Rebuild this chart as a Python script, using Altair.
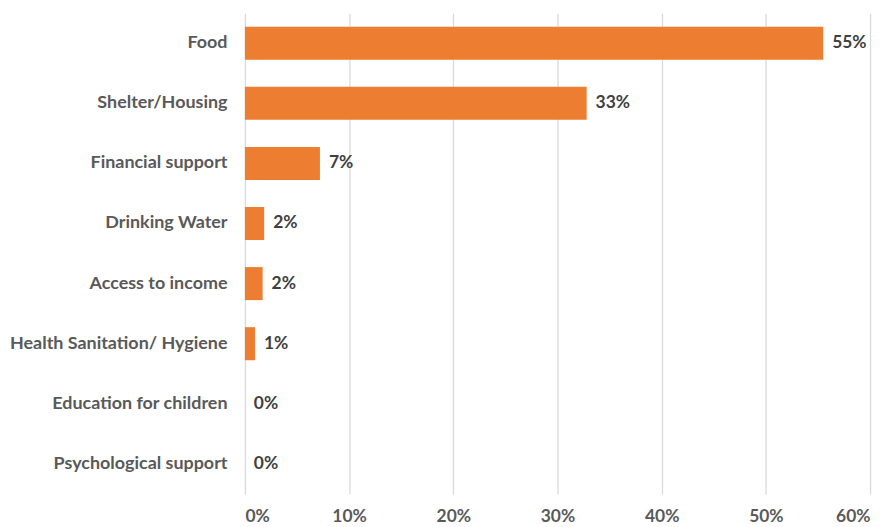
import altair as alt
import pandas as pd

categories = ["Food", "Shelter/Housing", "Financial support", "Drinking Water",
              "Access to income", "Health Sanitation/ Hygiene",
              "Education for children\u00a0", "Psychological support"]
values = [0.555, 0.328, 0.072, 0.0185, 0.017, 0.0097, 0.0, 0.0]
labels = ["55%", "33%", "7%", "2%", "2%", "1%", "0%", "0%"]
x_ticks = [0, 0.1, 0.2, 0.3, 0.4, 0.5, 0.6]

df = pd.DataFrame({"category": categories, "value": values, "label": labels})

FONT = "Lato"
FS = 18

y_enc = alt.Y("category:N", sort=categories, title=None,
              scale=alt.Scale(paddingInner=0.45, paddingOuter=0.225),
              axis=alt.Axis(domain=False, ticks=False, labelFont=FONT,
                            labelFontSize=FS, labelFontWeight="bold",
                            labelColor="#595959", labelPadding=18,
                            labelLimit=400))

x_enc = alt.X("value:Q", title=None,
              scale=alt.Scale(domain=[0, 0.6], nice=False),
              axis=alt.Axis(values=x_ticks, format=".0%", domain=False,
                            ticks=False, grid=True, gridColor="#d9d9d9",
                            gridWidth=1.3,
                            labelFont=FONT, labelFontSize=17.5,
                            labelFontWeight="bold", labelColor="#595959",
                            labelPadding=14))

bars = alt.Chart(df).mark_bar(color="#ED7D31").encode(x=x_enc, y=y_enc)

text = alt.Chart(df).mark_text(align="left", baseline="middle", dx=9,
                               font=FONT, fontSize=17.5, fontWeight="bold",
                               color="#404040").encode(
    x="value:Q", y=alt.Y("category:N", sort=categories), text="label:N")

chart = (bars + text).properties(
    width=628, height=483,
    autosize=alt.AutoSizeParams(type="none"),
    padding={"left": 238, "top": 4, "right": 12, "bottom": 32},
).configure_view(stroke=None)

chart.save("out.html", embed_options={"renderer": "svg", "actions": False})
